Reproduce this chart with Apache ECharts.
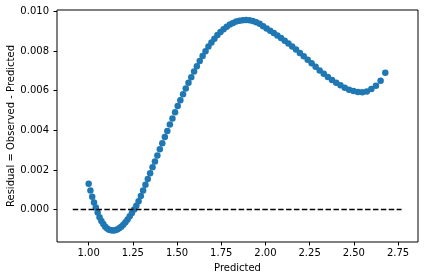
<!DOCTYPE html>
<html>
<head>
<meta charset="utf-8">
<script src="https://cdn.jsdelivr.net/npm/echarts@6/dist/echarts.min.js"></script>
<style>
html,body{margin:0;padding:0;background:#fff;}
#chart{width:424px;height:280px;}
</style>
</head>
<body>
<div id="chart"></div>
<script>
// Predicted values (x)
var predicted = [
1.0000,1.0100,1.0201,1.0303,1.0406,1.0510,1.0615,1.0721,1.0829,1.0937,
1.1046,1.1157,1.1268,1.1381,1.1495,1.1610,1.1726,1.1843,1.1961,1.2081,
1.2202,1.2324,1.2447,1.2572,1.2697,1.2824,1.2953,1.3082,1.3213,1.3345,
1.3478,1.3613,1.3749,1.3887,1.4026,1.4166,1.4308,1.4451,1.4595,1.4741,
1.4889,1.5038,1.5188,1.5340,1.5493,1.5648,1.5805,1.5963,1.6122,1.6283,
1.6446,1.6611,1.6777,1.6945,1.7114,1.7285,1.7458,1.7633,1.7809,1.7987,
1.8167,1.8349,1.8532,1.8717,1.8905,1.9094,1.9285,1.9477,1.9672,1.9869,
2.0068,2.0268,2.0471,2.0676,2.0882,2.1091,2.1302,2.1515,2.1730,2.1948,
2.2167,2.2389,2.2613,2.2839,2.3067,2.3298,2.3531,2.3766,2.4004,2.4244,
2.4486,2.4731,2.4979,2.5228,2.5481,2.5735,2.5993,2.6253,2.6515,2.6780
];
// Residual = Observed - Predicted (y)
var residual = [
0.00130,0.00096,0.00065,0.00036,0.00010,-0.00015,-0.00038,-0.00057,-0.00073,-0.00086,
-0.00095,-0.00101,-0.00104,-0.00105,-0.00104,-0.00100,-0.00094,-0.00086,-0.00076,-0.00064,
-0.00050,-0.00034,-0.00017,0.00001,0.00020,0.00042,0.00068,0.00096,0.00125,0.00154,
0.00183,0.00213,0.00243,0.00273,0.00304,0.00335,0.00366,0.00397,0.00429,0.00460,
0.00491,0.00522,0.00552,0.00582,0.00611,0.00640,0.00668,0.00696,0.00723,0.00749,
0.00775,0.00799,0.00822,0.00843,0.00862,0.00880,0.00896,0.00910,0.00922,0.00933,
0.00941,0.00948,0.00952,0.00955,0.00956,0.00955,0.00951,0.00945,0.00937,0.00925,
0.00913,0.00902,0.00890,0.00878,0.00866,0.00852,0.00838,0.00823,0.00807,0.00790,
0.00773,0.00756,0.00738,0.00720,0.00702,0.00685,0.00669,0.00654,0.00640,0.00627,
0.00615,0.00605,0.00598,0.00593,0.00592,0.00596,0.00608,0.00625,0.00650,0.00690
];
// zero reference line
var zeroLineX = [0.91, 2.77];
var zeroLineY = [0, 0];
// tick labels
var xTicks = [1.00, 1.25, 1.50, 1.75, 2.00, 2.25, 2.50, 2.75];
var yTicks = [0.000, 0.002, 0.004, 0.006, 0.008, 0.010];

var pts = predicted.map(function(x, i){ return [x, residual[i]]; });
var linePts = zeroLineX.map(function(x, i){ return [x, zeroLineY[i]]; });

var font = 'DejaVu Sans';
var chart = echarts.init(document.getElementById('chart'), null, {renderer:'canvas'});
chart.setOption({
  animation: false,
  backgroundColor: '#fff',
  grid: {left: 57, top: 10, width: 361, height: 232, show: true, borderColor: '#000', borderWidth: 1,
    backgroundColor: 'transparent', containLabel: false, outerBoundsMode: 'none'},
  xAxis: {
    type: 'value', min: 0.821, max: 2.863,
    name: 'Predicted', nameLocation: 'middle', nameGap: 21, nameMoveOverlap: false,
    nameTextStyle: {fontFamily: font, fontSize: 10, color: '#000'},
    axisLine: {show: false, onZero: false},
    splitLine: {show: false},
    axisTick: {show: true, inside: false, length: 3.5, lineStyle: {color: '#000', width: 1}, customValues: xTicks},
    axisLabel: {fontFamily: font, fontSize: 10, color: '#000', margin: 6, customValues: xTicks,
      formatter: function(v){ return v.toFixed(2); }}
  },
  yAxis: {
    type: 'value', min: -0.001634, max: 0.010066,
    name: 'Residual = Observed - Predicted', nameLocation: 'middle', nameGap: 41, nameMoveOverlap: false,
    nameTextStyle: {fontFamily: font, fontSize: 10, color: '#000'},
    axisLine: {show: false, onZero: false},
    splitLine: {show: false},
    axisTick: {show: true, inside: false, length: 3.5, lineStyle: {color: '#000', width: 1}, customValues: yTicks},
    axisLabel: {fontFamily: font, fontSize: 10, color: '#000', margin: 8, customValues: yTicks,
      formatter: function(v){ return v.toFixed(3); }}
  },
  series: [
    {type: 'scatter', data: pts, symbolSize: 6.5, itemStyle: {color: '#1f77b4', opacity: 1}, z: 2},
    {type: 'line', data: linePts, showSymbol: false, symbol: 'none', z: 3,
      lineStyle: {color: '#000', width: 1.5, type: [5.5, 2.4]}}
  ]
});
</script>
</body>
</html>
